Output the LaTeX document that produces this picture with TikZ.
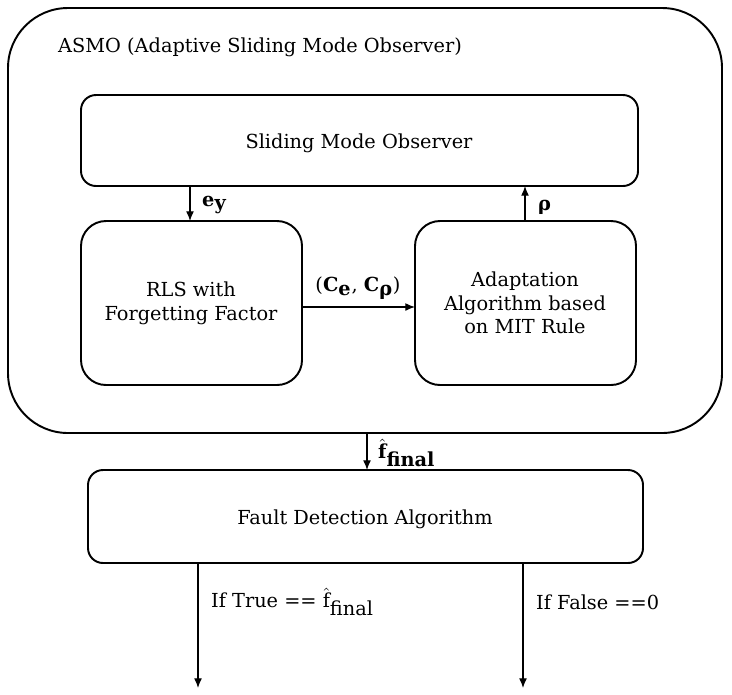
\documentclass[tikz,border=0pt]{standalone}
\usepackage{fontspec}
\setmainfont{DejaVu Serif}
\usetikzlibrary{arrows.meta}

\tikzset{
  blk/.style={draw,line width=1.1pt,rounded corners=#1,inner sep=0pt},
  lbl/.style={font=\fontsize{11}{13.5}\selectfont,align=center},
  sig/.style={-{Latex[length=5.5pt,width=4.5pt]},line width=0.7pt}
}

\begin{document}
\begin{tikzpicture}[x=0.02cm,y=-0.02cm]
  \useasboundingbox (0,0) rectangle (732,694);
  % boxes
  \draw[blk=1.2cm] (8,8) rectangle (722,433);
  \node[lbl,anchor=west] (title) at (52,47) {ASMO (Adaptive Sliding Mode Observer)};
  \draw[blk=0.3cm] (81,95) rectangle (638,186);
  \node[lbl] (smo) at (359,143) {Sliding Mode Observer};
  \draw[blk=0.5cm] (81,221) rectangle (302,385);
  \node[lbl] (rls) at (191,303) {RLS with\\Forgetting Factor};
  \draw[blk=0.5cm] (415,221) rectangle (636,385);
  \node[lbl] (ada) at (525,303) {Adaptation\\Algorithm based\\on MIT Rule};
  \draw[blk=0.3cm] (88,470) rectangle (643,563);
  \node[lbl] (fda) at (365,519) {Fault Detection Algorithm};
  % connector points
  \coordinate (ey1) at (190,186); \coordinate (ey2) at (190,221);
  \coordinate (rh1) at (525,221); \coordinate (rh2) at (525,186);
  \coordinate (ce1) at (302,307); \coordinate (ce2) at (415,307);
  \coordinate (ff1) at (367,433); \coordinate (ff2) at (367,470);
  \coordinate (t1) at (198,563); \coordinate (t2) at (198,688);
  \coordinate (f1) at (523,563); \coordinate (f2) at (523,688);
  \foreach \a/\b in {ey1/ey2,rh1/rh2,ce1/ce2,ff1/ff2,t1/t2,f1/f2}
    \draw[sig] (\a) -- (\b);
  % labels
  \node[lbl,anchor=west] (ey) at (196,205) {\textbf{e}$_{\textbf{y}}$};
  \node[lbl,anchor=west] (rho) at (532,207) {\textbf{ρ}};
  \node[lbl] (cc) at (358,288) {(\textbf{C}$_{\textbf{e}}$, \textbf{C}$_{\textbf{ρ}}$)};
  \node[lbl,anchor=west] (ffin) at (372,453) {$\hat{\textbf{f}}_{\textbf{final}}$};
  \node[lbl,anchor=west] (tru) at (205,602) {If True == $\hat{\textrm{f}}_{\textrm{final}}$};
  \node[lbl,anchor=west] (fls) at (530,602) {If False ==0};
\end{tikzpicture}
\end{document}
